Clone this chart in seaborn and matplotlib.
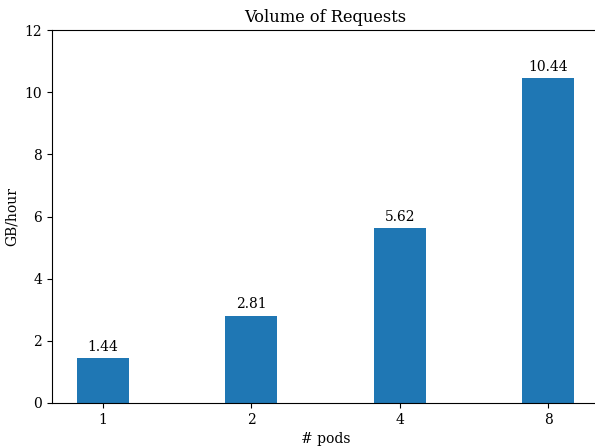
import pandas as pd
import seaborn as sns
import matplotlib.pyplot as plt

pods = ["1", "2", "4", "8"]
gb_per_hour = [1.44, 2.81, 5.62, 10.44]

# plain matplotlib look, serif text
plt.rcParams['font.family'] = ['DejaVu Serif']
plt.rcParams['font.size'] = 10

df = pd.DataFrame({"pods": pods, "gb": gb_per_hour})

fig = plt.figure(figsize=(5.95, 4.46), dpi=100)
ax = fig.add_axes([52 / 595, 1 - 403 / 446, (599 - 52) / 595, (403 - 30) / 446])

sns.barplot(data=df, x="pods", y="gb", color="#1f77b4", saturation=1,
            width=0.35, ax=ax)
ax.bar_label(ax.containers[0], fmt="%.2f", padding=3)

ax.set_xlim(-0.3425, 3.3425)
ax.set_ylim(0, 12)
ax.set_title("Volume of Requests", fontsize=11.7)
ax.set_xlabel("# pods")
ax.set_ylabel("GB/hour")

fig.savefig("out.png", dpi=100)
